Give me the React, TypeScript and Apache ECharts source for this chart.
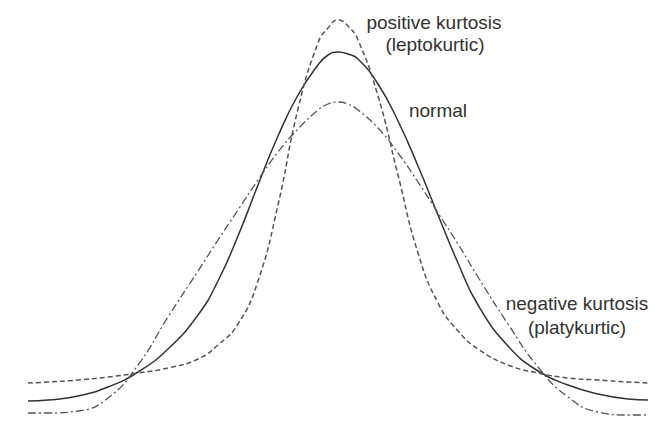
import React, { useEffect, useRef } from "react";
import * as echarts from "echarts";

// x in standard-deviation-like units, y as relative density
const xs = [-3.1, -2.9, -2.6, -2.3, -2.0, -1.7, -1.4, -1.2, -1.0, -0.8, -0.6, -0.4, -0.2, -0.1, 0, 0.1, 0.2, 0.4, 0.6, 0.8, 1.0, 1.2, 1.4, 1.7, 2.0, 2.3, 2.6, 2.9, 3.1];

const normal = [0.02, 0.021, 0.025, 0.034, 0.049, 0.072, 0.106, 0.14, 0.185, 0.236, 0.285, 0.326, 0.356, 0.366, 0.369, 0.367, 0.362, 0.337, 0.3, 0.255, 0.206, 0.158, 0.116, 0.075, 0.05, 0.036, 0.027, 0.022, 0.021];

const leptokurtic = [0.038, 0.039, 0.041, 0.044, 0.048, 0.053, 0.062, 0.076, 0.097, 0.14, 0.216, 0.312, 0.378, 0.393, 0.401, 0.395, 0.381, 0.325, 0.246, 0.168, 0.118, 0.09, 0.072, 0.056, 0.048, 0.043, 0.041, 0.039, 0.038];

const platykurtic = [0.008, 0.008, 0.01, 0.023, 0.056, 0.104, 0.15, 0.181, 0.211, 0.241, 0.269, 0.292, 0.311, 0.317, 0.319, 0.317, 0.311, 0.293, 0.268, 0.239, 0.208, 0.177, 0.144, 0.097, 0.054, 0.024, 0.009, 0.006, 0.006];

const labelPositive = ["positive kurtosis", "(leptokurtic)"];
const labelNormal = "normal";
const labelNegative = ["negative kurtosis", "(platykurtic)"];

const pairs = (ys: number[]) => xs.map((x, i) => [x, ys[i]]);

export default function App() {
  const ref = useRef<HTMLDivElement>(null);
  useEffect(() => {
    if (!ref.current) return;
    const chart = echarts.init(ref.current, null, { renderer: "svg" });
    const font = "'Liberation Sans', Arial, sans-serif";
    const textStyle = (t: string, x: number, y: number) => ({
      type: "text",
      x,
      y,
      style: {
        text: t,
        font: `19px ${font}`,
        fill: "#333333",
        textAlign: "center",
        textVerticalAlign: "middle",
      },
    });
    chart.setOption({
      animation: false,
      backgroundColor: "#ffffff",
      grid: { left: 0, right: 0, top: 0, bottom: 0 },
      xAxis: { type: "value", min: -3.38, max: 3.16, show: false },
      yAxis: { type: "value", min: 0, max: 0.421, show: false },
      series: [
        {
          type: "line",
          data: pairs(normal),
          smooth: true,
          symbol: "none",
          lineStyle: { color: "#333", width: 1.5, type: "solid" },
        },
        {
          type: "line",
          data: pairs(leptokurtic),
          smooth: true,
          symbol: "none",
          lineStyle: { color: "#555", width: 1.5, type: [5, 3] },
        },
        {
          type: "line",
          data: pairs(platykurtic),
          smooth: true,
          symbol: "none",
          lineStyle: { color: "#555", width: 1.3, type: [8, 3, 2, 3] },
        },
      ],
      graphic: [
        textStyle(labelPositive[0], 434, 22),
        textStyle(labelPositive[1], 435, 44),
        textStyle(labelNormal, 438, 110),
        textStyle(labelNegative[0], 577, 303),
        textStyle(labelNegative[1], 577, 327),
      ],
    });
    return () => chart.dispose();
  }, []);
  return (
    <div
      ref={ref}
      style={{ position: "fixed", left: 0, top: 0, width: 654, height: 421, background: "#fff" }}
    />
  );
}
